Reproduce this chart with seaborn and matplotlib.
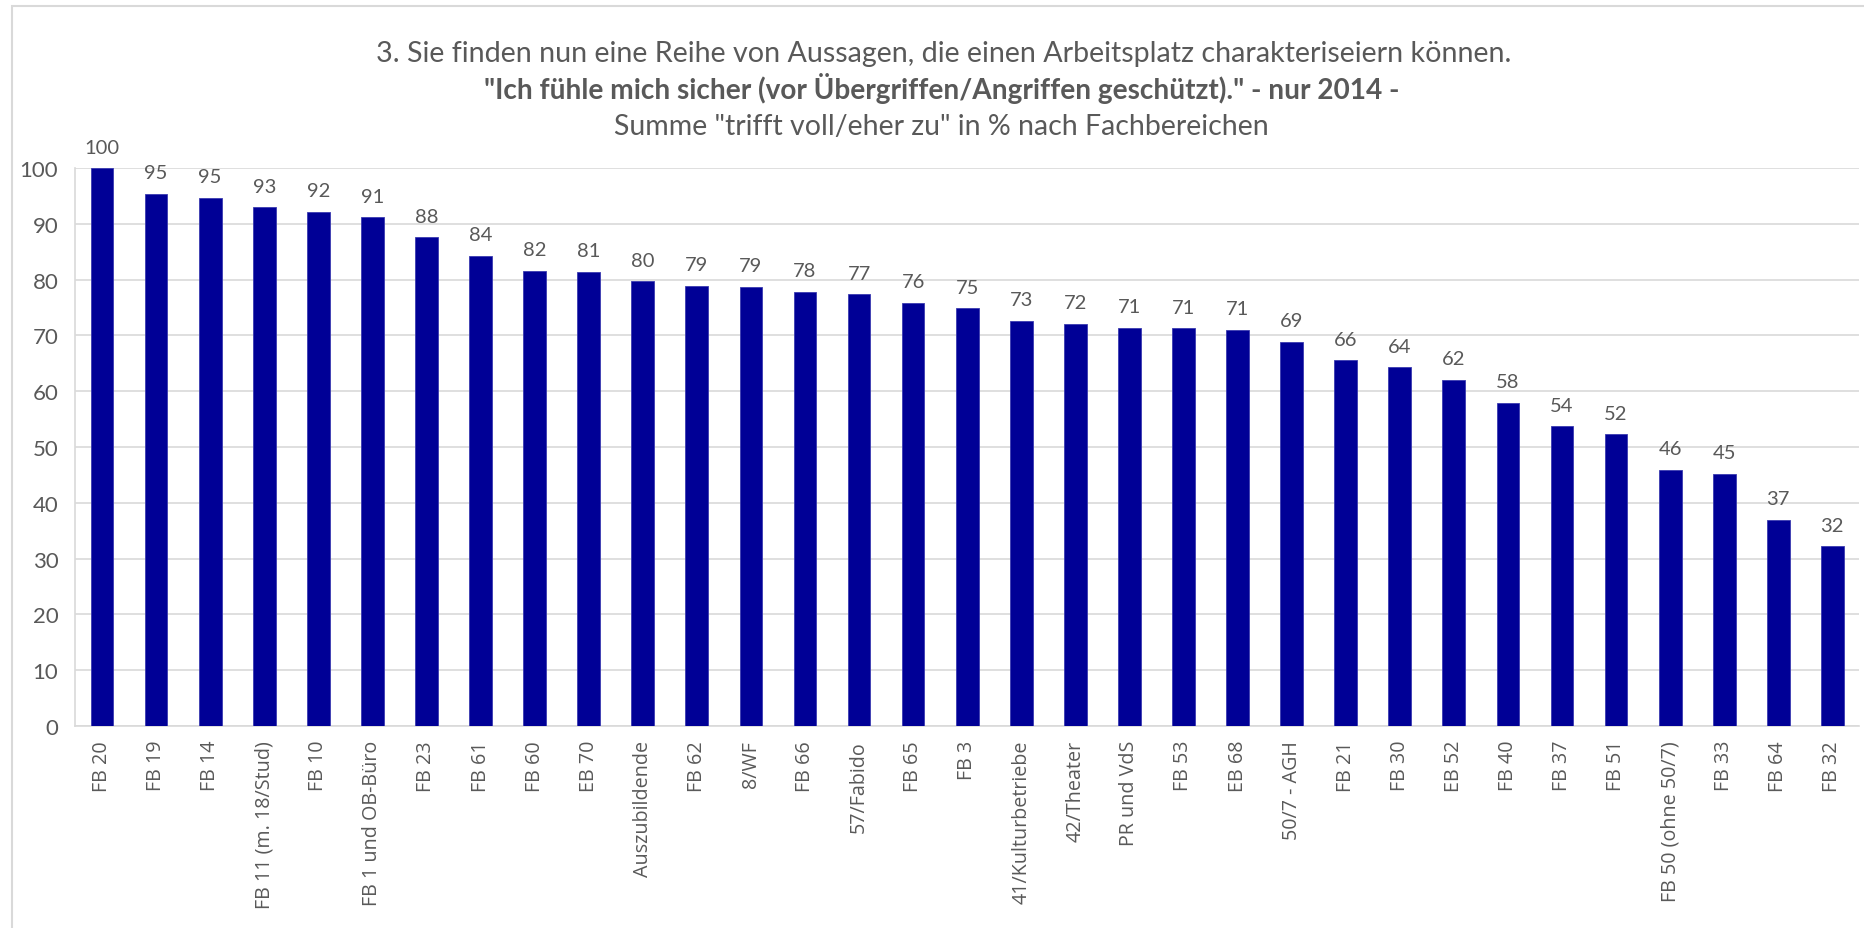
import matplotlib
matplotlib.use("Agg")
import matplotlib.pyplot as plt
import seaborn as sns
import pandas as pd
from matplotlib.patches import Rectangle

categories = ["FB 20", "FB 19", "FB 14", "FB 11 (m. 18/Stud)", "FB 10", "FB 1 und OB-Büro",
              "FB 23", "FB 61", "FB 60", "EB 70", "Auszubildende", "FB 62", "8/WF", "FB 66",
              "57/Fabido", "FB 65", "FB 3", "41/Kulturbetriebe", "42/Theater", "PR und VdS",
              "FB 53", "EB 68", "50/7 - AGH", "FB 21", "FB 30", "EB 52", "FB 40", "FB 37",
              "FB 51", "FB 50 (ohne 50/7)", "FB 33", "FB 64", "FB 32"]
values = [100.0, 95.4, 94.7, 93.0, 92.2, 91.2, 87.6, 84.3, 81.6, 81.4, 79.7, 78.9, 78.7, 77.8,
          77.4, 75.9, 74.9, 72.6, 72.1, 71.4, 71.3, 71.0, 68.9, 65.6, 64.3, 62.1, 57.9, 53.7,
          52.3, 45.9, 45.2, 37.0, 32.2]
yticks = list(range(0, 101, 10))

title1 = "3. Sie finden nun eine Reihe von Aussagen, die einen Arbeitsplatz charakteriseiern können."
title2 = "\"Ich fühle mich sicher (vor Übergriffen/Angriffen geschützt).\" - nur 2014 -"
title3 = "Summe \"trifft voll/eher zu\" in % nach Fachbereichen"

sns.set_style("white")
plt.rcParams["font.family"] = ["Lato", "DejaVu Sans"]

TXT = "#595959"
BAR = "#000096"

df = pd.DataFrame({"cat": categories, "val": values})

fig = plt.figure(figsize=(18.65, 9.29), dpi=100)
ax = fig.add_axes([0.0402, 0.2174, 0.9568, 0.6006])

sns.barplot(data=df, x="cat", y="val", color=BAR, width=0.42, saturation=1,
            edgecolor="#3a3ab0", linewidth=0.6, ax=ax, zorder=3)

ax.set_ylim(0, 100)
ax.set_yticks(yticks)
ax.set_xlim(-0.5, len(categories) - 0.5)
ax.grid(axis="y", color="#d9d9d9", linewidth=1.2, zorder=0)
ax.set_axisbelow(True)
for s in ["top", "right"]:
    ax.spines[s].set_visible(False)
for s in ["left", "bottom"]:
    ax.spines[s].set_color("#d9d9d9")
    ax.spines[s].set_linewidth(1.2)
ax.set_xlabel("")
ax.set_ylabel("")
ax.tick_params(axis="y", length=0, pad=12, labelsize=16, labelcolor=TXT)
ax.tick_params(axis="x", length=0, pad=10, labelcolor=TXT)
for lab in ax.get_xticklabels():
    lab.set_rotation(90)
    lab.set_fontfamily(["Open Sans", "DejaVu Sans"])
    lab.set_fontsize(14.2)
    lab.set_va("top")

for container in ax.containers:
    ax.bar_label(container, labels=[f"{round(v)}" for v in values], padding=9,
                 fontsize=14.5, color=TXT)

fig.text(0.506, 0.942, title1, ha="center", va="center", fontsize=20.6, color=TXT)
fig.text(0.505, 0.905, title2, ha="center", va="center", fontsize=20.2, color=TXT,
         fontweight="bold")
fig.text(0.505, 0.863, title3, ha="center", va="center", fontsize=20.5, color=TXT)

fig.patches.append(Rectangle((0.0065, -0.05), 1.1, 1.042, transform=fig.transFigure,
                             fill=False, edgecolor="#d9d9d9", linewidth=1.5))

fig.savefig("out.png", dpi=100)
